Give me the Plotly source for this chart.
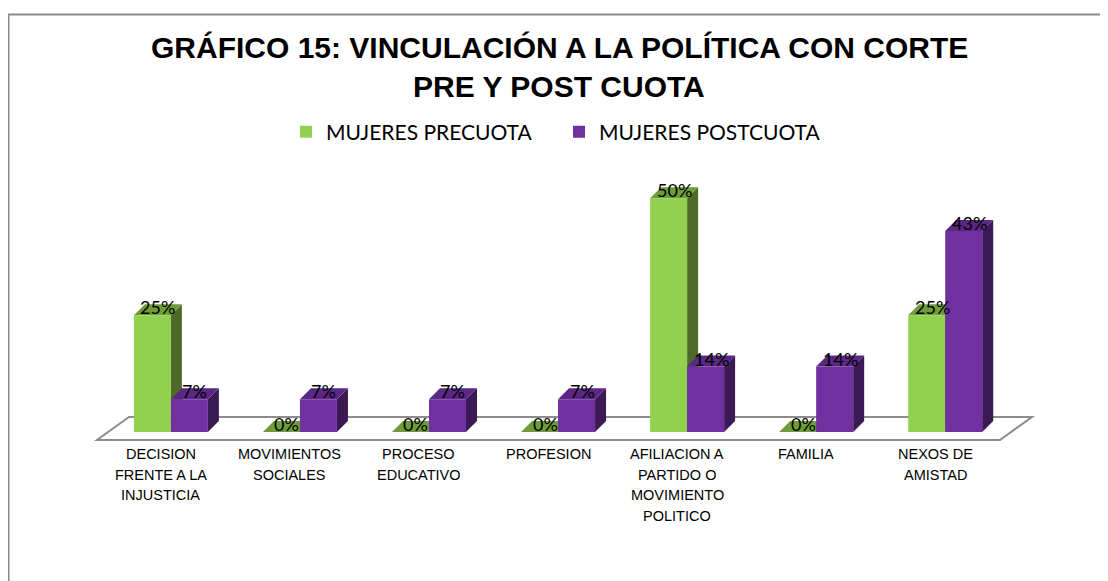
import plotly.graph_objects as go

categories = [
    "DECISION<br>FRENTE A LA<br>INJUSTICIA",
    "MOVIMIENTOS<br>SOCIALES",
    "PROCESO<br>EDUCATIVO",
    "PROFESION",
    "AFILIACION A<br>PARTIDO O<br>MOVIMIENTO<br>POLITICO",
    "FAMILIA",
    "NEXOS DE<br>AMISTAD",
]
precuota = [25, 0, 0, 0, 50, 0, 25]
postcuota = [7, 7, 7, 7, 14, 14, 43]
series_names = ["MUJERES PRECUOTA", "MUJERES POSTCUOTA"]
title_lines = ["GRÁFICO 15: VINCULACIÓN A LA POLÍTICA CON CORTE", "PRE Y POST CUOTA"]

OFF = 8  # page body margin
W, H = 1108 - OFF, 581 - OFF
# plot area in screen pixels -> figure pixels
L_PX, R_PX, T_PX, B_PX = 87 - OFF, 1042 - OFF, 175 - OFF, 446 - OFF
XR = [-0.65, 6.75]
YR = [-3, 55]

def px_x(sx):
    return (sx - OFF - L_PX) / (R_PX - L_PX)

def px_y(sy):
    return (B_PX - (sy - OFF)) / (B_PX - T_PX)

ux = (R_PX - L_PX) / (XR[1] - XR[0])   # px per x unit
uy = (B_PX - T_PX) / (YR[1] - YR[0])   # px per % unit

bw = 37 / ux          # bar width in x units
dx = 11 / ux          # depth offset x
dy = 11 / uy          # depth offset y

colors = {
    "front": ["#92D050", "#7030A0"],
    "side": ["#4D6A29", "#3A1955"],
    "top": ["#6F9C3A", "#5A2784"],
}

fig = go.Figure()

shapes = []
# floor
fl_front_y, fl_back_y = -8 / uy, 15 / uy
fl_x0, fl_x1 = XR[0] + 10 / ux, XR[1] - 42 / ux
fl_dx = 32 / ux
shapes.append(dict(
    type="path", xref="x", yref="y", layer="below",
    path=f"M{fl_x0},{fl_front_y} L{fl_x1},{fl_front_y} L{fl_x1 + fl_dx},{fl_back_y} L{fl_x0 + fl_dx},{fl_back_y} Z",
    fillcolor="white", line=dict(color="#8C8C8C", width=2),
))

for i in range(len(categories)):
    for s, vals in enumerate([precuota, postcuota]):
        h = vals[i]
        x0 = i - bw if s == 0 else i
        x1 = x0 + bw
        if h > 0:
            shapes.append(dict(
                type="path", xref="x", yref="y", layer="below",
                path=f"M{x1},0 L{x1 + dx},{dy} L{x1 + dx},{h + dy} L{x1},{h} Z",
                fillcolor=colors["side"][s], line=dict(width=0),
            ))
        shapes.append(dict(
            type="path", xref="x", yref="y", layer="below",
            path=f"M{x0},{h} L{x1},{h} L{x1 + dx},{h + dy} L{x0 + dx},{h + dy} Z",
            fillcolor=colors["top"][s], line=dict(width=0),
        ))

for s, vals in enumerate([precuota, postcuota]):
    fig.add_trace(go.Bar(
        x=list(range(len(categories))), y=vals, name=series_names[s],
        width=bw, offset=-bw if s == 0 else 0,
        marker=dict(color=colors["front"][s], line=dict(width=0)),
        hoverinfo="skip",
    ))

annotations = []
for i in range(len(categories)):
    for s, vals in enumerate([precuota, postcuota]):
        h = vals[i]
        xc = (i - bw / 2 if s == 0 else i + bw / 2) + dx / 2
        annotations.append(dict(
            x=xc, y=h, xref="x", yref="y", text=f"{h}%", showarrow=False,
            yanchor="middle", yshift=8,
            font=dict(family="Lato", size=18, color="black"),
        ))
for i, cat in enumerate(categories):
    for k, line in enumerate(cat.split("<br>")):
        annotations.append(dict(
            x=i, y=0, xref="x", yref="paper", text=line, showarrow=False,
            xshift=-10, yanchor="middle", yshift=-(8 + 20.5 * k),
            font=dict(family="Liberation Sans", size=14.5, color="black"),
        ))
for line, sy in zip(title_lines, [47, 87]):
    annotations.append(dict(
        x=px_x(559), y=px_y(sy), xref="paper", yref="paper",
        text=f"<b>{line}</b>", showarrow=False, yanchor="middle",
        font=dict(family="Liberation Sans", size=30, color="black"),
    ))

# chart border
shapes.append(dict(
    type="rect", xref="paper", yref="paper", layer="above",
    x0=px_x(8.5), x1=px_x(1140), y0=px_y(14.5), y1=px_y(640),
    line=dict(color="#8C8C8C", width=2), fillcolor="rgba(0,0,0,0)",
))

fig.update_layout(
    width=W, height=H,
    margin=dict(l=L_PX, r=W - R_PX, t=T_PX, b=H - B_PX, pad=0),
    paper_bgcolor="white", plot_bgcolor="white",
    barmode="overlay",
    showlegend=True,
    legend=dict(
        orientation="h", x=px_x(286), y=px_y(132), xanchor="left", yanchor="middle",
        font=dict(family="Lato", size=21, color="black"),
        entrywidth=228, entrywidthmode="pixels", traceorder="normal",
        bgcolor="rgba(0,0,0,0)",
    ),
    xaxis=dict(range=XR, showgrid=False, zeroline=False, showticklabels=False,
               showline=False, ticks="", fixedrange=True),
    yaxis=dict(range=YR, showgrid=False, zeroline=False, showticklabels=False,
               showline=False, ticks="", fixedrange=True),
    shapes=shapes,
    annotations=annotations,
)

fig.write_html("out.html")
